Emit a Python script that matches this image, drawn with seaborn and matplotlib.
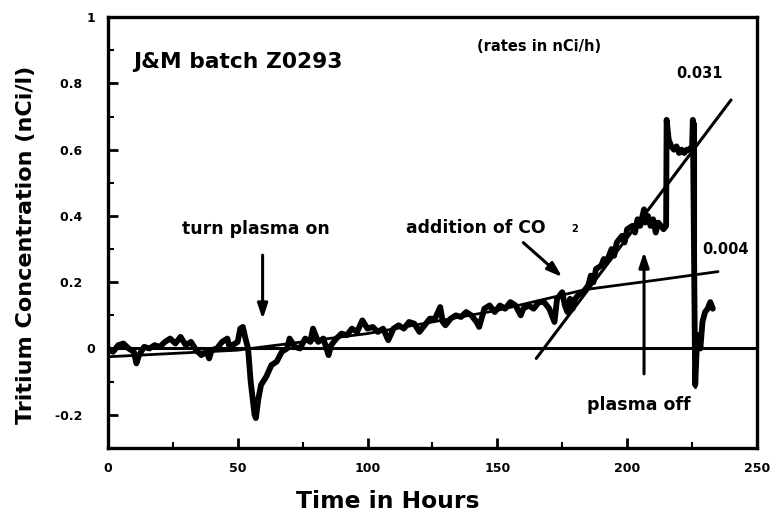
import matplotlib
matplotlib.use("Agg")
import matplotlib.pyplot as plt
import seaborn as sns
import pandas as pd
from matplotlib.ticker import MultipleLocator

# ---- data ----
time_h = [0, 2, 4, 6, 8, 10, 11, 12, 14, 16, 18, 20, 22, 24, 26, 28, 30, 32, 34, 36,
          38, 39, 40, 42, 44, 46, 47, 48, 50, 51, 52, 53, 54, 55, 56.5, 57, 58, 59, 61, 63,
          65, 67, 69, 70, 72, 74, 76, 78, 79, 81, 83, 85, 86, 88, 90, 92, 94, 96, 98, 100,
          102, 104, 106, 108, 110, 112, 114, 116, 118, 120, 122, 124, 126, 128, 129, 130, 132, 134, 136, 138,
          140, 142, 143, 145, 147, 149, 151, 153, 155, 157, 159, 160, 162, 164, 166, 168, 170, 172, 173, 175,
          176, 177, 178, 179, 180, 181, 183, 185, 186, 187, 188, 190, 191, 192, 194, 195, 196, 198, 199, 200,
          202, 203, 204, 205, 206.5, 207, 208, 209, 210, 211, 212, 213, 214, 215, 215.2, 216, 217, 218, 219, 220,
          221, 222, 223, 224, 225, 225.3, 226.2, 226.8, 227.5, 228.2, 229, 230, 231, 232, 233]
tritium = [0.00, -0.01, 0.01, 0.015, 0.0, -0.01, -0.045, -0.02, 0.005, 0.0, 0.01, 0.005, 0.02, 0.03, 0.015, 0.035, 0.01, 0.02, -0.005, -0.02,
           -0.01, -0.03, -0.005, 0.0, 0.02, 0.03, 0.0, 0.01, 0.02, 0.06, 0.065, 0.03, 0.0, -0.1, -0.2, -0.21, -0.15, -0.11, -0.085, -0.05,
           -0.04, -0.01, 0.0, 0.03, 0.005, 0.0, 0.03, 0.02, 0.06, 0.02, 0.03, -0.02, 0.01, 0.03, 0.045, 0.04, 0.06, 0.05, 0.085, 0.06,
           0.065, 0.05, 0.06, 0.025, 0.06, 0.07, 0.06, 0.08, 0.075, 0.05, 0.07, 0.09, 0.09, 0.125, 0.08, 0.07, 0.09, 0.10, 0.095, 0.11,
           0.10, 0.08, 0.065, 0.12, 0.13, 0.11, 0.13, 0.12, 0.14, 0.13, 0.10, 0.12, 0.13, 0.12, 0.14, 0.14, 0.12, 0.08, 0.15, 0.17,
           0.13, 0.11, 0.15, 0.12, 0.15, 0.16, 0.17, 0.19, 0.22, 0.20, 0.24, 0.25, 0.27, 0.26, 0.30, 0.28, 0.32, 0.34, 0.32, 0.36,
           0.37, 0.35, 0.39, 0.37, 0.42, 0.38, 0.40, 0.37, 0.39, 0.35, 0.38, 0.37, 0.36, 0.37, 0.69, 0.63, 0.61, 0.60, 0.61, 0.59,
           0.60, 0.59, 0.60, 0.60, 0.61, 0.69, -0.11, 0.0, 0.04, 0.0, 0.08, 0.11, 0.12, 0.14, 0.12]

# fitted rates
slow_fit_t = [0, 50, 100, 150, 184, 210, 235]
slow_fit_v = [-0.025, -0.005, 0.045, 0.115, 0.178, 0.205, 0.232]
fast_fit_t = [165, 240]
fast_fit_v = [-0.03, 0.75]
baseline_t = [0, 250]
baseline_v = [0, 0]

x_ticks = [0, 50, 100, 150, 200, 250]
y_ticks = [-0.2, 0, 0.2, 0.4, 0.6, 0.8, 1]
y_tick_labels = ["-0.2   ", "0", "0.2   ", "0.4   ", "0.6   ", "0.8   ", "1"]

# ---- drawing ----
sns.set_style("ticks")
plt.rcParams["font.family"] = ["DejaVu Sans"]
plt.rcParams["font.weight"] = "bold"
plt.rcParams["text.color"] = "black"
plt.rcParams["axes.labelcolor"] = "black"
plt.rcParams["xtick.color"] = "black"
plt.rcParams["ytick.color"] = "black"

fig = plt.figure(figsize=(7.76, 5.19), dpi=100)
ax = fig.add_axes([0.139, 0.137, 0.8365, 0.830])

df = pd.DataFrame({"t": time_h, "v": tritium})
sns.lineplot(data=df, x="t", y="v", sort=False, estimator=None, color="black",
             linewidth=4.2, ax=ax)
sns.lineplot(x=baseline_t, y=baseline_v, color="black", linewidth=2.2, ax=ax)
sns.lineplot(x=slow_fit_t, y=slow_fit_v, color="black", linewidth=2.0, ax=ax)
sns.lineplot(x=fast_fit_t, y=fast_fit_v, color="black", linewidth=2.2, ax=ax)

ax.set_xlim(0, 250)
ax.set_ylim(-0.3, 1.0)
ax.set_xticks(x_ticks)
ax.set_xticklabels([str(v) for v in x_ticks], fontsize=9, fontweight="bold")
ax.set_yticks(y_ticks)
ax.set_yticklabels(y_tick_labels, fontsize=9, fontweight="bold")
ax.xaxis.set_minor_locator(MultipleLocator(25))
ax.yaxis.set_minor_locator(MultipleLocator(0.1))
ax.tick_params(which="major", direction="in", length=7, width=2, pad=10)
ax.tick_params(which="minor", direction="in", length=4, width=1.5)
ax.tick_params(axis="y", pad=9)
for sp in ax.spines.values():
    sp.set_linewidth(2.4)
    sp.set_color("black")

ax.set_xlabel("Time in Hours", fontsize=16.8, fontweight="bold", labelpad=11)
ax.xaxis.label.set_x(0.431)
ax.set_ylabel("Tritium Concentration (nCi/l)", fontsize=16, fontweight="bold")
ax.yaxis.set_label_coords(-0.111, 0.471)

# annotations
ax.text(9.6, 0.865, "J&M batch Z0293", fontsize=15.7, fontweight="bold", va="center")
ax.text(142.3, 0.91, "(rates in nCi/h)", fontsize=10.5, fontweight="bold", va="center")
ax.text(227.7, 0.83, "0.031", fontsize=10.5, fontweight="bold", va="center", ha="center")
ax.text(238, 0.30, "0.004", fontsize=10.5, fontweight="bold", va="center", ha="center")
ax.text(57, 0.36, "turn plasma on", fontsize=12.4, fontweight="bold", va="center", ha="center")
ax.text(115, 0.365, "addition of CO", fontsize=12.4, fontweight="bold", va="center")
ax.text(178.5, 0.36, "2", fontsize=7, fontweight="bold", va="center")
ax.text(184.6, -0.17, "plasma off", fontsize=12.5, fontweight="bold", va="center")

arrow_kw = dict(arrowstyle="-|>,head_length=0.9,head_width=0.3", color="black", lw=2.2)
ax.annotate("", xy=(59.6, 0.08), xytext=(59.6, 0.29), arrowprops=arrow_kw)
ax.annotate("", xy=(175.8, 0.21), xytext=(159.2, 0.325), arrowprops=arrow_kw)
ax.annotate("", xy=(206.5, 0.30), xytext=(206.5, -0.085), arrowprops=arrow_kw)
ax.plot([226.3, 226.3], [-0.115, 0.68], color="black", lw=2.2)

fig.savefig("out.png", dpi=100)
